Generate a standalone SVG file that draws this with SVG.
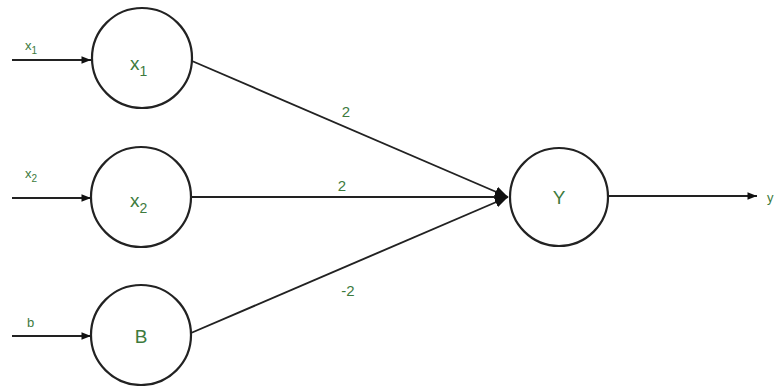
<svg xmlns="http://www.w3.org/2000/svg" width="774" height="386" viewBox="0 0 774 386">
<defs>
<marker id="ah" viewBox="0 0 10 10" refX="10" refY="5" markerWidth="5.5" markerHeight="5" orient="auto" markerUnits="strokeWidth">
<path d="M0,1 L10,5 L0,9 Z" fill="#111"/>
</marker>
<marker id="ahb" viewBox="0 0 10 10" refX="10" refY="5" markerWidth="7" markerHeight="7" orient="auto" markerUnits="strokeWidth">
<path d="M0,1 L10,5 L0,9 Z" fill="#111"/>
</marker>
</defs>
<style>
.node{fill:#fff;stroke:#222;stroke-width:2.2}
.edge{stroke:#222;stroke-width:1.9;fill:none}
.t{font-family:"Liberation Sans",Arial,sans-serif;fill:#3d7a3d}
.big{font-size:19px}
.lbl{font-size:15px}
.in{font-size:13px}
</style>
<rect width="774" height="386" fill="#fff"/>
<g id="connectors">
<line class="edge" x1="12" y1="60" x2="91" y2="60" marker-end="url(#ah)"/>
<line class="edge" x1="12" y1="198" x2="91" y2="198" marker-end="url(#ah)"/>
<line class="edge" x1="12" y1="336" x2="91" y2="336" marker-end="url(#ah)"/>
<line class="edge" x1="192" y1="61" x2="508" y2="197" marker-end="url(#ahb)"/>
<line class="edge" x1="191" y1="197" x2="508" y2="197" marker-end="url(#ahb)"/>
<line class="edge" x1="191" y1="333" x2="508" y2="197" marker-end="url(#ahb)"/>
<line class="edge" x1="609" y1="196" x2="757" y2="196" marker-end="url(#ah)"/>
<text class="t lbl" x="346" y="117" text-anchor="middle">2</text>
<text class="t lbl" x="342" y="191" text-anchor="middle">2</text>
<text class="t lbl" x="348" y="296" text-anchor="middle">-2</text>
<text class="t in" x="25" y="50">x<tspan font-size="10" dy="4">1</tspan></text>
<text class="t in" x="25" y="178">x<tspan font-size="10" dy="4">2</tspan></text>
<text class="t in" x="27" y="327">b</text>
<text class="t in" x="767" y="202">y</text>
</g>
<g id="node-x1">
<circle class="node" cx="142" cy="58" r="50"/>
<text class="t big" x="130" y="70">x<tspan font-size="14" dy="6">1</tspan></text>
</g>
<g id="node-x2">
<circle class="node" cx="141" cy="197" r="50"/>
<text class="t big" x="130" y="207">x<tspan font-size="14" dy="6">2</tspan></text>
</g>
<g id="node-b">
<circle class="node" cx="141" cy="335" r="50"/>
<text class="t big" x="141" y="343" text-anchor="middle">B</text>
</g>
<g id="node-y">
<circle class="node" cx="559" cy="197" r="49"/>
<text class="t big" x="559" y="204" text-anchor="middle">Y</text>
</g>
</svg>
